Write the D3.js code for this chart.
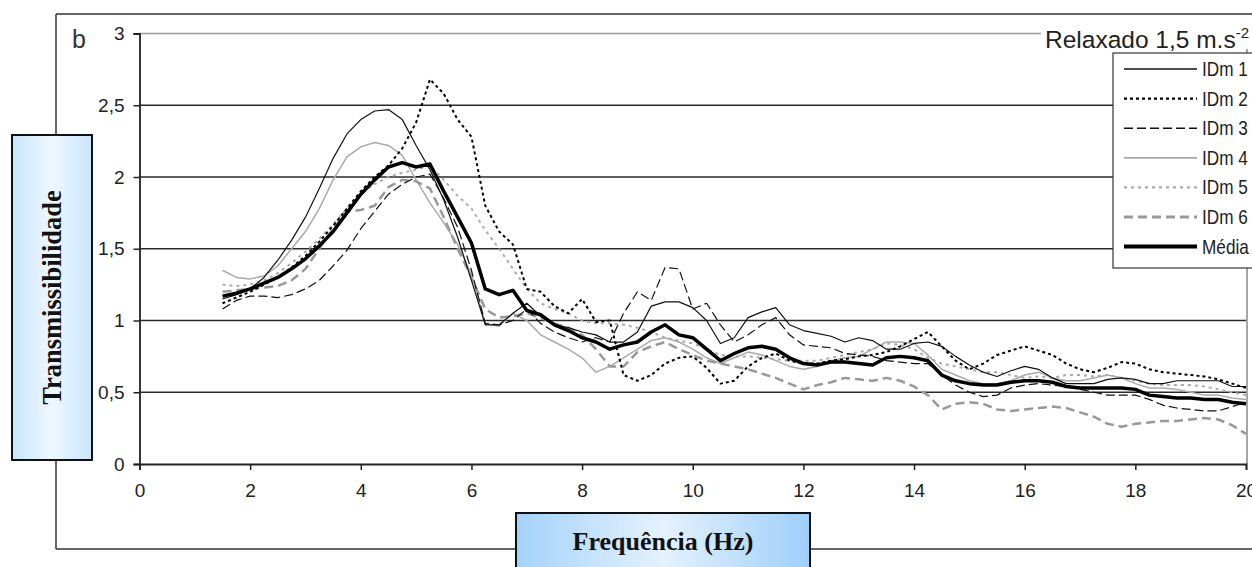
<!DOCTYPE html>
<html><head><meta charset="utf-8">
<script src="https://cdn.jsdelivr.net/npm/d3@7"></script>
<style>html,body{margin:0;padding:0;background:#fff;}svg{display:block;}</style>
</head><body>
<svg id="c" width="1252" height="567"></svg>
<script>
// ---- data ----
const freq = d3.range(0, 75).map(i => 1.5 + 0.25 * i); // 1.5 .. 20 Hz
const yTicks = [0, 0.5, 1, 1.5, 2, 2.5, 3];
const xTicks = [0, 2, 4, 6, 8, 10, 12, 14, 16, 18, 20];
const seriesNames = ["IDm 1", "IDm 2", "IDm 3", "IDm 4", "IDm 5", "IDm 6", "Média"];

const idm1 = [1.15,1.18,1.22,1.30,1.42,1.56,1.72,1.92,2.13,2.30,2.40,2.46,2.47,2.40,2.22,2.05,1.84,1.58,1.28,0.97,0.97,1.05,1.12,1.03,0.97,0.95,0.92,0.90,0.85,0.85,0.92,1.10,1.13,1.13,1.09,1.00,0.84,0.88,1.02,1.06,1.09,0.97,0.93,0.91,0.89,0.85,0.88,0.86,0.80,0.80,0.84,0.85,0.82,0.75,0.69,0.64,0.61,0.65,0.68,0.66,0.60,0.56,0.56,0.56,0.59,0.60,0.59,0.56,0.56,0.58,0.58,0.58,0.58,0.54,0.54];
const idm2 = [1.12,1.16,1.20,1.25,1.30,1.37,1.45,1.55,1.66,1.78,1.90,2.00,2.08,2.20,2.38,2.68,2.58,2.40,2.28,1.80,1.62,1.53,1.22,1.20,1.10,1.05,1.15,0.99,1.00,0.62,0.58,0.62,0.70,0.74,0.75,0.67,0.56,0.58,0.68,0.74,0.77,0.72,0.70,0.70,0.72,0.73,0.75,0.76,0.78,0.82,0.87,0.92,0.82,0.72,0.66,0.70,0.76,0.79,0.82,0.79,0.76,0.70,0.66,0.64,0.67,0.71,0.70,0.66,0.64,0.63,0.62,0.61,0.59,0.56,0.53];
const idm3 = [1.08,1.14,1.17,1.17,1.16,1.18,1.22,1.28,1.38,1.49,1.64,1.76,1.88,1.95,2.00,2.02,1.85,1.65,1.35,0.98,0.97,1.00,1.08,0.98,0.92,0.88,0.85,0.88,0.85,1.05,1.20,1.14,1.37,1.36,1.08,1.12,0.97,0.85,0.90,0.97,1.02,0.90,0.83,0.82,0.81,0.77,0.76,0.75,0.72,0.71,0.70,0.70,0.62,0.55,0.50,0.47,0.48,0.53,0.55,0.56,0.55,0.54,0.52,0.50,0.48,0.48,0.48,0.45,0.41,0.39,0.38,0.37,0.37,0.40,0.43];
const idm4 = [1.35,1.30,1.29,1.31,1.38,1.50,1.62,1.78,1.98,2.14,2.21,2.24,2.22,2.15,1.98,1.82,1.68,1.53,1.32,0.98,0.96,1.05,1.00,0.90,0.85,0.80,0.74,0.64,0.68,0.74,0.80,0.86,0.88,0.85,0.80,0.74,0.70,0.74,0.78,0.76,0.72,0.68,0.66,0.68,0.72,0.74,0.75,0.80,0.85,0.85,0.84,0.76,0.66,0.62,0.58,0.56,0.56,0.58,0.62,0.64,0.60,0.58,0.58,0.60,0.62,0.60,0.56,0.53,0.53,0.52,0.50,0.48,0.48,0.46,0.45];
const idm5 = [1.25,1.24,1.25,1.28,1.33,1.40,1.48,1.57,1.67,1.78,1.88,1.95,2.00,2.03,2.05,2.08,1.98,1.87,1.78,1.63,1.50,1.36,1.22,1.12,1.08,1.05,1.00,0.98,0.98,0.97,0.95,0.92,0.88,0.86,0.84,0.80,0.76,0.75,0.75,0.74,0.73,0.72,0.72,0.72,0.74,0.76,0.78,0.80,0.84,0.83,0.80,0.74,0.70,0.68,0.66,0.64,0.64,0.62,0.60,0.61,0.60,0.62,0.62,0.61,0.62,0.60,0.58,0.56,0.55,0.55,0.55,0.54,0.52,0.50,0.48];
const idm6 = [1.20,1.21,1.22,1.23,1.24,1.28,1.36,1.50,1.64,1.76,1.77,1.80,1.93,1.98,1.97,1.92,1.72,1.50,1.30,1.08,1.02,1.03,1.05,1.02,0.98,0.95,0.90,0.80,0.68,0.68,0.78,0.82,0.85,0.80,0.76,0.72,0.70,0.68,0.66,0.63,0.60,0.56,0.52,0.55,0.57,0.60,0.59,0.58,0.60,0.58,0.54,0.48,0.38,0.42,0.43,0.42,0.38,0.37,0.38,0.39,0.40,0.39,0.36,0.33,0.28,0.26,0.28,0.29,0.30,0.30,0.31,0.32,0.31,0.27,0.21];
const media = [1.17,1.19,1.22,1.26,1.30,1.36,1.43,1.52,1.62,1.75,1.88,1.98,2.07,2.10,2.07,2.09,1.90,1.72,1.54,1.22,1.18,1.21,1.07,1.04,0.97,0.93,0.88,0.85,0.80,0.83,0.85,0.92,0.97,0.90,0.88,0.80,0.72,0.77,0.81,0.82,0.80,0.74,0.70,0.69,0.71,0.71,0.70,0.69,0.74,0.75,0.74,0.72,0.62,0.58,0.56,0.55,0.55,0.57,0.58,0.58,0.57,0.54,0.53,0.53,0.53,0.53,0.52,0.48,0.47,0.46,0.46,0.45,0.45,0.43,0.42];

const seriesValues = [idm1, idm2, idm3, idm4, idm5, idm6, media];
const styles = [
  {stroke:"#111", w:1.2, dash:null},
  {stroke:"#000", w:2.0, dash:"3,3"},
  {stroke:"#111", w:1.2, dash:"9,4"},
  {stroke:"#aaa", w:1.5, dash:null},
  {stroke:"#aaa", w:2.0, dash:"3,4"},
  {stroke:"#999", w:2.5, dash:"9,5"},
  {stroke:"#000", w:3.5, dash:null}
];

const svg = d3.select("#c");
const defs = svg.append("defs");
const gy = defs.append("linearGradient").attr("id","gy").attr("x1","0").attr("x2","1").attr("y1","0").attr("y2","0");
gy.append("stop").attr("offset","0").attr("stop-color","#c9e6fc");
gy.append("stop").attr("offset","0.5").attr("stop-color","#eef7ff");
gy.append("stop").attr("offset","1").attr("stop-color","#c9e6fc");
const gx = defs.append("linearGradient").attr("id","gx").attr("x1","0").attr("x2","1").attr("y1","0").attr("y2","0");
gx.append("stop").attr("offset","0").attr("stop-color","#a4d2fa");
gx.append("stop").attr("offset","0.5").attr("stop-color","#e4f2ff");
gx.append("stop").attr("offset","1").attr("stop-color","#9ecff9");

// outer frame
const frame = svg.append("g").attr("stroke","#333").attr("stroke-width",1.5).attr("fill","none");
frame.append("line").attr("x1",56).attr("y1",14).attr("x2",1252).attr("y2",14);
frame.append("line").attr("x1",56).attr("y1",14).attr("x2",56).attr("y2",549);
frame.append("line").attr("x1",56).attr("y1",549).attr("x2",1252).attr("y2",549);

const x = d3.scaleLinear().domain([0,20]).range([139.5,1246]);
const y = d3.scaleLinear().domain([0,3]).range([464,33.5]);
const fmt = d => String(d).replace(".", ",");

// gridlines
const grid = svg.append("g");
grid.selectAll("line").data(yTicks.filter(d=>d>0)).join("line")
  .attr("x1", x(0)).attr("x2", x(20))
  .attr("y1", d=>y(d)).attr("y2", d=>y(d))
  .attr("stroke", d=> d===3 ? "#9a9a9a" : "#2a2a2a")
  .attr("stroke-width", 1.5);
// right edge
svg.append("line").attr("x1",x(20)+1).attr("x2",x(20)+1).attr("y1",y(3)).attr("y2",y(0))
  .attr("stroke","#888").attr("stroke-width",1.5);

// axes
const yAxis = svg.append("g").attr("transform",`translate(${x(0)},0)`)
  .call(d3.axisLeft(y).tickValues(yTicks).tickFormat(fmt).tickSize(6).tickPadding(9));
const xAxis = svg.append("g").attr("transform",`translate(0,${y(0)})`)
  .call(d3.axisBottom(x).tickValues(xTicks).tickFormat(fmt).tickSize(6).tickPadding(14));
[yAxis, xAxis].forEach(a => {
  a.select(".domain").attr("stroke","#222").attr("stroke-width",1.8);
  a.selectAll(".tick line").attr("stroke","#222").attr("stroke-width",1.5);
  a.selectAll(".tick text").attr("fill","#222").style("font-family","'Liberation Sans', Arial, sans-serif").style("font-size","19px");
});

// lines
const line = d3.line().x((d,i)=>x(freq[i])).y(d=>y(d)).curve(d3.curveLinear);
const order = [3,4,5,0,2,1,6];
const lg = svg.append("g").attr("fill","none").attr("stroke-linejoin","round");
order.forEach(k => {
  lg.append("path").datum(seriesValues[k]).attr("d", line)
    .attr("stroke", styles[k].stroke).attr("stroke-width", styles[k].w)
    .attr("stroke-dasharray", styles[k].dash);
});

// "Relaxado" label with white background
svg.append("rect").attr("x",1041).attr("y",22).attr("width",211).attr("height",27).attr("fill","#fff");
const rl = svg.append("text").attr("x",1045).attr("y",48)
  .style("font-family","'Liberation Sans', Arial, sans-serif").style("font-size","24.5px").attr("fill","#222");
rl.append("tspan").text("Relaxado 1,5 m.s");
rl.append("tspan").attr("dy",-10).style("font-size","15px").text("-2");

// legend
svg.append("rect").attr("x",1113).attr("y",53).attr("width",150).attr("height",215)
  .attr("fill","#fff").attr("stroke","#333").attr("stroke-width",1.2);
seriesNames.forEach((n,k) => {
  const yy = 69 + k*29.6;
  svg.append("line").attr("x1",1124).attr("x2",1197).attr("y1",yy).attr("y2",yy)
    .attr("stroke",styles[k].stroke).attr("stroke-width",k===6?4:styles[k].w+0.3)
    .attr("stroke-dasharray",styles[k].dash);
  svg.append("text").attr("transform",`translate(1202,${yy+7}) scale(0.86,1)`)
    .style("font-family","'Liberation Sans', Arial, sans-serif").style("font-size","20px")
    .attr("fill","#222").text(n);
});

// panel letter
svg.append("text").attr("x",72).attr("y",48).text("b")
  .style("font-family","'Liberation Sans', Arial, sans-serif").style("font-size","25px").attr("fill","#333");

// y label box
svg.append("rect").attr("x",12).attr("y",135).attr("width",80).attr("height",325)
  .attr("fill","url(#gy)").attr("stroke","#111").attr("stroke-width",2);
svg.append("text").attr("transform","translate(52,297.5) rotate(-90)")
  .attr("text-anchor","middle").attr("dominant-baseline","central")
  .style("font-family","'Liberation Serif', 'Times New Roman', serif").style("font-weight","bold").style("font-size","26.5px")
  .attr("fill","#111").text("Transmissibilidade");

// x label box
svg.append("rect").attr("x",516).attr("y",513).attr("width",294).attr("height",70)
  .attr("fill","url(#gx)").attr("stroke","#111").attr("stroke-width",2);
svg.append("text").attr("x",663).attr("y",550).attr("text-anchor","middle")
  .style("font-family","'Liberation Serif', 'Times New Roman', serif").style("font-weight","bold").style("font-size","26px")
  .attr("fill","#111").text("Frequência (Hz)");
</script>
</body></html>
